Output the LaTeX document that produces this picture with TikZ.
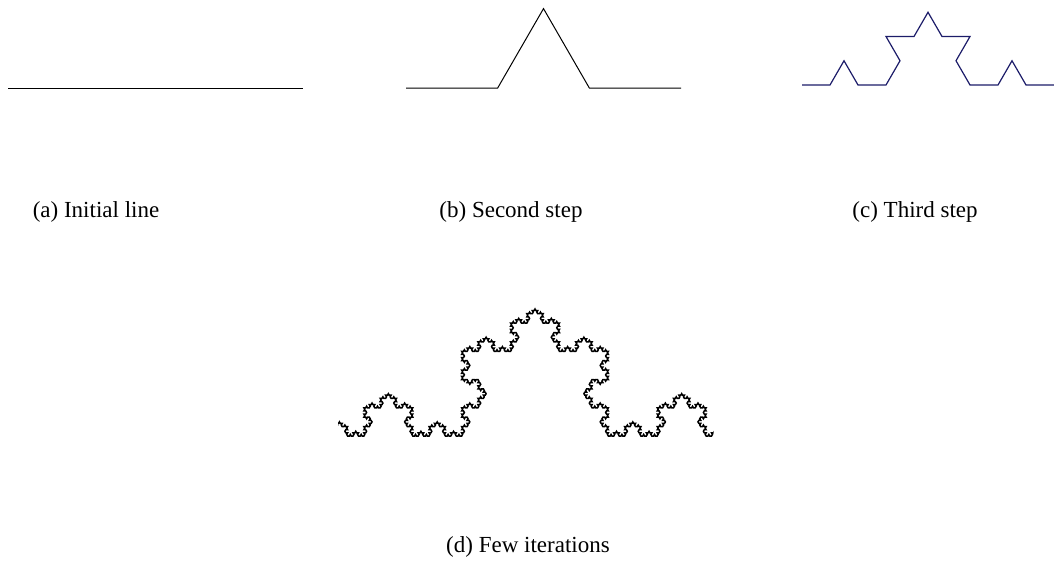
\documentclass[tikz,border=0pt]{standalone}
\usepackage{fontspec}
\setmainfont{Liberation Serif}
\definecolor{kochblue}{RGB}{28,28,105}
\newcount\kdir
\newtoks\kpath
\def\kstep{1pt}
\def\kochF#1{%
  \ifnum#1=0
    \edef\ktmp{\the\kpath -- ++(\the\numexpr\kdir*60\relax:\kstep)}%
    \kpath=\expandafter{\ktmp}%
  \else
    \expandafter\kochrec\expandafter{\the\numexpr#1-1\relax}%
  \fi}
\def\kochrec#1{\kochF{#1}\advance\kdir 1 \kochF{#1}\advance\kdir -2 \kochF{#1}\advance\kdir 1 \kochF{#1}}
\def\makekoch#1#2{\kpath={}\kdir=0 \def\kstep{#2}\kochF{#1}\edef\kochP{\the\kpath}}
\begin{document}
\begin{tikzpicture}[x=1pt,y=-1pt,
  curve/.style={line width=1pt, line join=miter},
  lab/.style={font=\fontsize{23}{27}\selectfont, anchor=base, inner sep=0pt}]
\useasboundingbox (0,0) rectangle (1054,562);
% (a)
\draw[curve] (8,88) -- (303,88);
% (b)
\makekoch{1}{91.667pt}
\draw[curve] (406,88) \kochP;
% (c)
\makekoch{2}{28pt}
\draw[curve, kochblue, line width=1.2pt] (802,85) \kochP;
% (d)
\makekoch{5}{1.8107pt}
\begin{scope}
  \clip (338,250) rectangle (713.5,450);
  \draw[line width=1.5pt, line join=miter] (315,436) \kochP;
\end{scope}
\node[lab] (la) at (96,217) {(a) Initial line};
\node[lab] (lb) at (511,217) {(b) Second step};
\node[lab] (lc) at (915,217) {(c) Third step};
\node[lab] (ld) at (528,552) {(d) Few iterations};
\end{tikzpicture}
\end{document}
